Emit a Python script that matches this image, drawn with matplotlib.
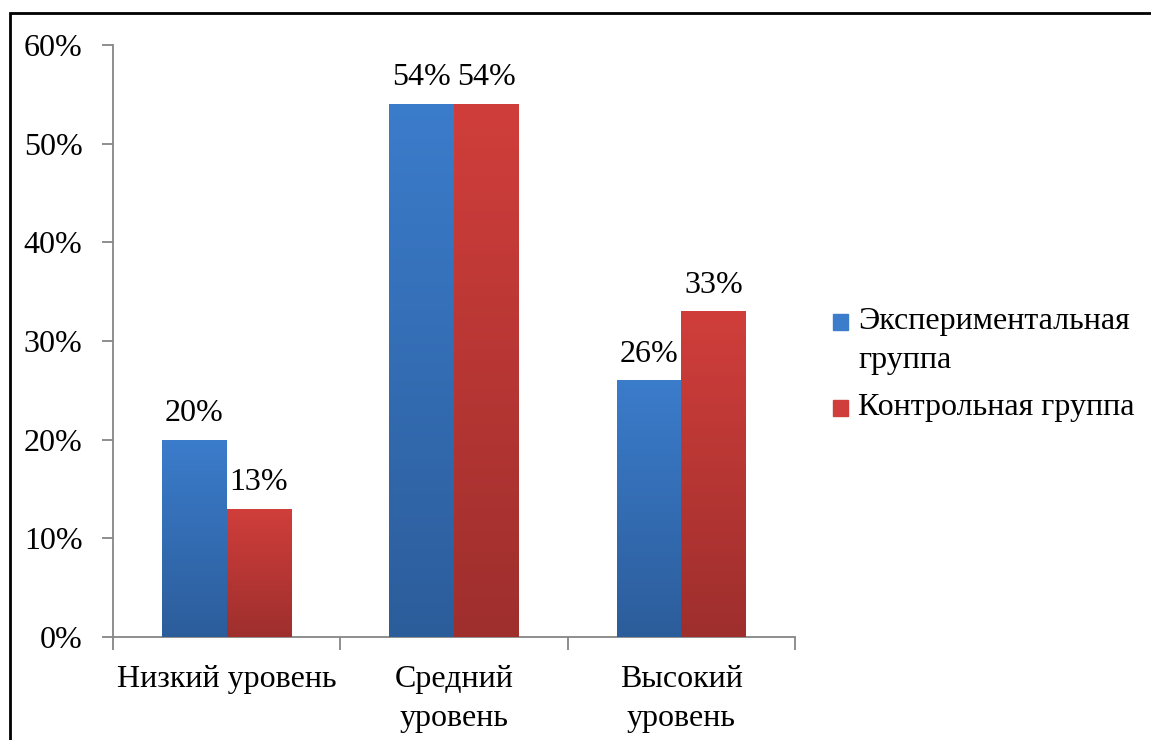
import numpy as np
import matplotlib.pyplot as plt
from matplotlib.patches import Rectangle
from matplotlib.colors import LinearSegmentedColormap

plt.rcParams['font.family'] = ['Liberation Serif', 'DejaVu Serif']

# --- Данные ---
categories = ["Низкий уровень", "Средний\nуровень", "Высокий\nуровень"]
series_names = ["Экспериментальная\nгруппа", "Контрольная группа"]
exp_values = [20, 54, 26]
ctrl_values = [13, 54, 33]

# цвета: верх / низ градиента
blue_top, blue_bot = "#3b7ccb", "#2c5d9b"
red_top, red_bot = "#d03e3b", "#9e2f2d"

fig = plt.figure(figsize=(11.51, 7.40), dpi=100)
ax = fig.add_axes([113/1151, 1 - 637/740, (795 - 113)/1151, (637 - 45)/740])

x = np.arange(len(categories))
w = 0.285
bars_exp = ax.bar(x - w/2, exp_values, w, color=blue_top, zorder=2)
bars_ctrl = ax.bar(x + w/2, ctrl_values, w, color=red_top, zorder=2)

def gradient_fill(bars, top, bot):
    cmap = LinearSegmentedColormap.from_list("g", [bot, top])
    grad = np.linspace(0, 1, 256).reshape(-1, 1)
    for b in bars:
        x0, y0 = b.get_x(), b.get_y()
        x1, y1 = x0 + b.get_width(), y0 + b.get_height()
        im = ax.imshow(grad, cmap=cmap, aspect='auto', origin='lower',
                       extent=[x0, x1, y0, y1], zorder=3)
        im.set_clip_path(b)

gradient_fill(bars_exp, blue_top, blue_bot)
gradient_fill(bars_ctrl, red_top, red_bot)

fs = 23
for bars, vals in ((bars_exp, exp_values), (bars_ctrl, ctrl_values)):
    for b, v in zip(bars, vals):
        ax.text(b.get_x() + b.get_width()/2, v + 1.2, f"{v}%",
                ha='center', va='bottom', fontsize=fs, zorder=4)

ax.set_xlim(-0.5, len(categories) - 0.5)
ax.set_ylim(0, 60)
ax.set_yticks(np.arange(0, 61, 10))
ax.set_yticklabels([f"{v}%" for v in range(0, 61, 10)], fontsize=fs)

ax.set_xticks(x)
ax.set_xticklabels(categories, fontsize=fs, linespacing=1.45)
ax.set_xticks(np.arange(-0.5, len(categories)), minor=True)
ax.tick_params(axis='x', which='major', length=0, pad=20)
ax.tick_params(axis='x', which='minor', length=9, color='#868686', width=1.3)
ax.tick_params(axis='y', length=8, color='#868686', width=1.3, pad=14)

for s in ('top', 'right'):
    ax.spines[s].set_visible(False)
for s in ('left', 'bottom'):
    ax.spines[s].set_color('#868686')
    ax.spines[s].set_linewidth(1.3)

# легенда (вручную: маркер по первой строке)
leg_y = [322, 408]
for name, col, yy in zip(series_names, [blue_top, red_top], leg_y):
    fig.patches.append(Rectangle((833/1151, 1 - (yy + 8)/740), 15/1151, 16/740,
                                 transform=fig.transFigure, color=col))
    fig.text(858/1151, 1 - (yy - 15)/740, name, fontsize=fs, va='top', ha='left',
             linespacing=1.45)

# рамка
fig.patches.append(Rectangle((10/1151, -0.05), 1.1, 1.05 - 13/740,
                             transform=fig.transFigure, fill=False, ec='black', lw=2))

fig.savefig("out.png", dpi=100)
